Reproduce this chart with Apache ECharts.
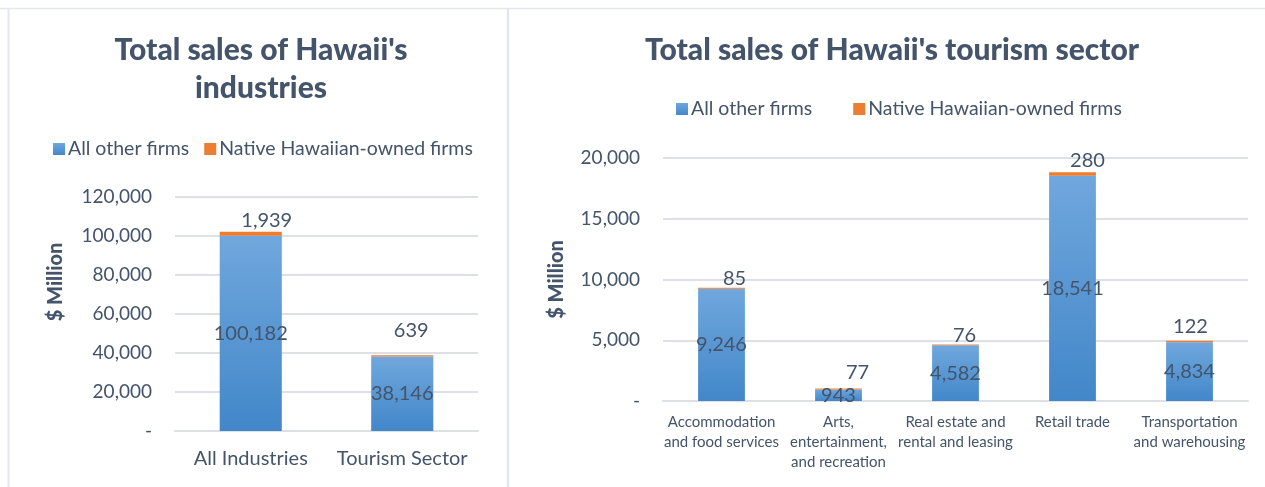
<!DOCTYPE html>
<html>
<head>
<meta charset="utf-8">
<script src="https://cdn.jsdelivr.net/npm/echarts@6/dist/echarts.min.js"></script>
<style>
  html, body { margin: 0; padding: 0; background: #fff; }
  #main { width: 1265px; height: 487px; }
</style>
</head>
<body>
<div id="main"></div>
<script>
// data
var leftCats = ['All Industries', 'Tourism Sector'];
var leftOther = [100182, 38146];
var leftNative = [1939, 639];

var rightCats = ['Accommodation\nand food services', 'Arts,\nentertainment,\nand recreation',
  'Real estate and\nrental and leasing', 'Retail trade', 'Transportation\nand warehousing'];
var rightOther = [9246, 943, 4582, 18541, 4834];
var rightNative = [85, 77, 76, 280, 122];

// manual nudges of the orange labels (as placed in the original)
var leftNudge = [[16, 4], [9, -10]];
var rightNudge = [[13, 6], [19, -1], [9, 6], [15, 3], [1, 1]];

var FONT = 'Lato';
var TEXT = '#44546A';
var GRID = '#DDE1E7';

var blueFill = new echarts.graphic.LinearGradient(0, 0, 0, 1, [
  { offset: 0, color: '#70A7DD' },
  { offset: 1, color: '#4287C9' }
]);
var orange = '#ED7D31';

function fmt(v) { return v === 0 ? '-' : v.toLocaleString('en-US'); }

function nativeItems(vals, nudge) {
  return vals.map(function (v, i) {
    return { value: v, label: { offset: nudge[i] } };
  });
}

var myChart = echarts.init(document.getElementById('main'));
var option = {
  animation: false,
  textStyle: { fontFamily: FONT },
  title: [
    {
      text: "Total sales of Hawaii's\nindustries",
      left: 256, top: 26, textAlign: 'center',
      textStyle: { fontFamily: FONT, fontSize: 30, fontWeight: 900, color: TEXT, lineHeight: 38 }
    },
    {
      text: "Total sales of Hawaii's tourism sector",
      left: 887, top: 26, textAlign: 'center',
      textStyle: { fontFamily: FONT, fontSize: 30, fontWeight: 900, color: TEXT, lineHeight: 38 }
    }
  ],
  legend: [
    {
      data: ['All other firms', 'Native Hawaiian-owned firms'],
      left: 48, top: 134, itemWidth: 12, itemHeight: 12, itemGap: 15,
      icon: 'rect',
      textStyle: { fontFamily: FONT, fontSize: 19.5, color: TEXT, padding: [0, 0, 0, -2] },
      selectedMode: false
    },
    {
      data: ['All other firms ', 'Native Hawaiian-owned firms '],
      left: 671, top: 94, itemWidth: 12, itemHeight: 12, itemGap: 36,
      icon: 'rect',
      textStyle: { fontFamily: FONT, fontSize: 19.5, color: TEXT, padding: [0, 0, 0, -2] },
      selectedMode: false
    }
  ],
  grid: [
    { left: 175, top: 197, width: 303, height: 234 },
    { left: 663, top: 158, width: 585, height: 243 }
  ],
  xAxis: [
    {
      type: 'category', gridIndex: 0, data: leftCats,
      axisLine: { lineStyle: { color: GRID, width: 2 } },
      axisTick: { show: false },
      axisLabel: { color: TEXT, fontFamily: FONT, fontSize: 20, margin: 18, interval: 0 }
    },
    {
      type: 'category', gridIndex: 1, data: rightCats,
      axisLine: { lineStyle: { color: GRID, width: 2 } },
      axisTick: { show: false },
      axisLabel: { color: TEXT, fontFamily: FONT, fontSize: 15, margin: 11, lineHeight: 20, interval: 0 }
    }
  ],
  yAxis: [
    {
      type: 'value', gridIndex: 0, min: 0, max: 120000, interval: 20000,
      name: '$ Million', nameLocation: 'middle', nameGap: 109,
      nameTextStyle: { fontFamily: FONT, fontSize: 20, fontWeight: 900, color: TEXT, padding: [0, 0, 0, 64] },
      splitLine: { lineStyle: { color: GRID, width: 2 } },
      axisLine: { show: false }, axisTick: { show: false },
      axisLabel: { color: TEXT, fontFamily: FONT, fontSize: 19, margin: 23, formatter: fmt }
    },
    {
      type: 'value', gridIndex: 1, min: 0, max: 20000, interval: 5000,
      name: '$ Million', nameLocation: 'middle', nameGap: 96,
      nameTextStyle: { fontFamily: FONT, fontSize: 20, fontWeight: 900, color: TEXT },
      splitLine: { lineStyle: { color: GRID, width: 2 } },
      axisLine: { show: false }, axisTick: { show: false },
      axisLabel: { color: TEXT, fontFamily: FONT, fontSize: 19, margin: 23, formatter: fmt }
    }
  ],
  series: [
    {
      name: 'All other firms', type: 'bar', stack: 'L', xAxisIndex: 0, yAxisIndex: 0,
      data: leftOther, barWidth: '41%',
      itemStyle: { color: blueFill },
      label: { show: true, position: 'inside', color: TEXT, fontFamily: FONT, fontSize: 20,
        formatter: function (p) { return fmt(p.value); } }
    },
    {
      name: 'Native Hawaiian-owned firms', type: 'bar', stack: 'L', xAxisIndex: 0, yAxisIndex: 0,
      data: nativeItems(leftNative, leftNudge),
      itemStyle: { color: orange },
      label: { show: true, position: 'top', color: TEXT, fontFamily: FONT, fontSize: 20,
        formatter: function (p) { return fmt(p.value); } }
    },
    {
      name: 'All other firms ', type: 'bar', stack: 'R', xAxisIndex: 1, yAxisIndex: 1,
      data: rightOther, barWidth: '40%',
      itemStyle: { color: blueFill },
      label: { show: true, position: 'inside', color: TEXT, fontFamily: FONT, fontSize: 20,
        formatter: function (p) { return fmt(p.value); } }
    },
    {
      name: 'Native Hawaiian-owned firms ', type: 'bar', stack: 'R', xAxisIndex: 1, yAxisIndex: 1,
      data: nativeItems(rightNative, rightNudge),
      itemStyle: { color: orange },
      label: { show: true, position: 'top', color: TEXT, fontFamily: FONT, fontSize: 20,
        formatter: function (p) { return fmt(p.value); } }
    }
  ],
  graphic: [
    { type: 'line', shape: { x1: 0, y1: 8.5, x2: 1265, y2: 8.5 }, style: { stroke: '#E3E6EC', lineWidth: 1.5 } },
    { type: 'line', shape: { x1: 8.5, y1: 8, x2: 8.5, y2: 487 }, style: { stroke: '#E3E6EC', lineWidth: 2 } },
    { type: 'line', shape: { x1: 508, y1: 8, x2: 508, y2: 487 }, style: { stroke: '#E3E6EC', lineWidth: 2.5 } }
  ]
};

option && myChart.setOption(option);
</script>
</body>
</html>
